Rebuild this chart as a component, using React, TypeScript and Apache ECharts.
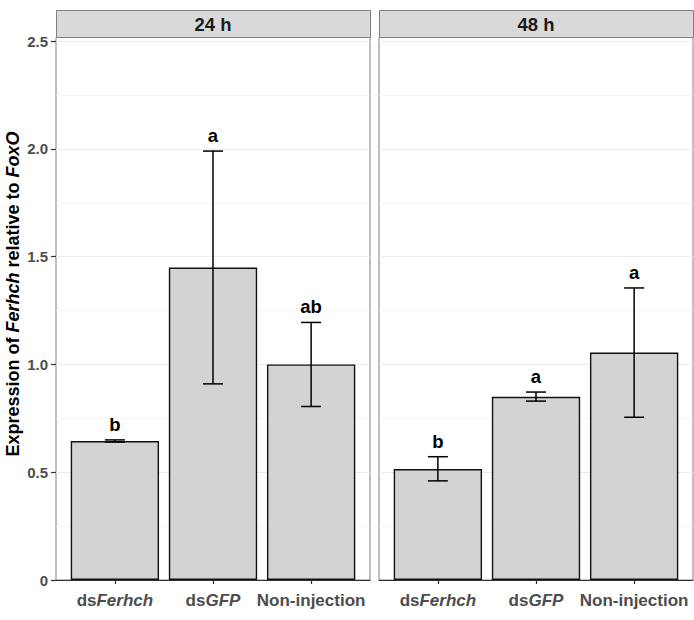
import React, { useEffect, useRef } from 'react';
import * as echarts from 'echarts';

const panels = ['24 h', '48 h'];
const categories = ['dsFerhch', 'dsGFP', 'Non-injection'];
const means24 = [0.645, 1.45, 1.0];
const lower24 = [0.64, 0.91, 0.805];
const upper24 = [0.65, 1.99, 1.195];
const letters24 = ['b', 'a', 'ab'];
const means48 = [0.515, 0.85, 1.055];
const lower48 = [0.46, 0.83, 0.755];
const upper48 = [0.572, 0.872, 1.355];
const letters48 = ['b', 'a', 'a'];
const yMin = 0;
const yMax = 2.517;
const yInterval = 0.5;

const FONT = '"Liberation Sans", Arial, Helvetica, sans-serif';

export default function App() {
  const ref = useRef<HTMLDivElement>(null);
  useEffect(() => {
    document.body.style.margin = '0';
    if (!ref.current) return;
    const chart = echarts.init(ref.current, undefined, { renderer: 'svg' });

    const panelLeft = [56, 379];
    const panelW = 314;
    const top = 37.5;
    const height = 542.5;
    const unit = panelW / 3.2;
    const innerPad = unit * 0.1;

    const grids: any[] = [];
    panelLeft.forEach((l) => {
      grids.push({ left: l, top, width: panelW, height, show: true, borderColor: '#7f7f7f', borderWidth: 1, backgroundColor: '#fff', containLabel: false });
    });
    panelLeft.forEach((l) => {
      grids.push({ left: l + innerPad, top, width: panelW - 2 * innerPad, height, containLabel: false });
    });

    const xLabel = {
      interval: 0,
      hideOverlap: false,
      fontFamily: FONT,
      fontWeight: 'bold',
      fontSize: 17,
      color: '#4d4d4d',
      margin: 12,
      formatter: (v: string) => (v.startsWith('ds') ? `{n|ds}{i|${v.slice(2)}}` : `{n|${v}}`),
      rich: {
        n: { fontFamily: FONT, fontWeight: 'bold', fontSize: 17, color: '#4d4d4d' },
        i: { fontFamily: FONT, fontWeight: 'bold', fontStyle: 'italic', fontSize: 17, color: '#4d4d4d' },
      },
    };

    const xAxis: any[] = [
      ...[0, 1].map((g) => ({
        gridIndex: g, type: 'value', min: 0, max: 1,
        axisLine: { show: true, lineStyle: { color: '#333', width: 1.2 } },
        axisTick: { show: false }, axisLabel: { show: false }, splitLine: { show: false },
      })),
      ...[2, 3].map((g) => ({
        gridIndex: g, type: 'category', data: categories, boundaryGap: true,
        axisLine: { show: false },
        axisTick: { show: true, alignWithLabel: true, interval: 0, length: 4, lineStyle: { color: '#333', width: 1.2 } },
        axisLabel: xLabel,
        splitLine: { show: false },
      })),
    ];

    const yBase = { type: 'value', min: yMin, max: yMax, interval: yInterval };
    const yAxis: any[] = [
      {
        ...yBase, gridIndex: 0,
        axisLine: { show: false },
        axisTick: { show: true, length: 5, lineStyle: { color: '#333', width: 1.2 } },
        axisLabel: {
          show: true, showMaxLabel: false, fontFamily: FONT, fontWeight: 'bold', fontSize: 15, color: '#4d4d4d', margin: 8,
          formatter: (v: number) => {
            const r = Math.round(v / yInterval) * yInterval;
            if (Math.abs(r - v) > 1e-6) return '';
            return v === 0 ? '0' : v.toFixed(1);
          },
        },
        splitLine: { show: true, lineStyle: { color: '#ebebeb', width: 1.2 } },
        minorTick: { show: false, splitNumber: 2 },
        minorSplitLine: { show: true, lineStyle: { color: '#f3f3f3', width: 0.8 } },
      },
      {
        ...yBase, gridIndex: 1,
        axisLine: { show: false }, axisTick: { show: false }, axisLabel: { show: false },
        splitLine: { show: true, lineStyle: { color: '#ebebeb', width: 1.2 } },
        minorTick: { show: false, splitNumber: 2 },
        minorSplitLine: { show: true, lineStyle: { color: '#f3f3f3', width: 0.8 } },
      },
      ...[2, 3].map((g) => ({
        ...yBase, gridIndex: g,
        axisLine: { show: false }, axisTick: { show: false }, axisLabel: { show: false }, splitLine: { show: false },
      })),
    ];

    const makeErr = (axisIdx: number, lo: number[], hi: number[], letters: string[]) => ({
      type: 'custom',
      xAxisIndex: axisIdx,
      yAxisIndex: axisIdx,
      z: 5,
      encode: { x: 0, y: [1, 2] },
      data: lo.map((l, i) => [i, l, hi[i]]),
      renderItem: (params: any, api: any) => {
        const i = api.value(0);
        const pLo = api.coord([i, api.value(1)]);
        const pHi = api.coord([i, api.value(2)]);
        const half = 10;
        const st = { stroke: '#000', lineWidth: 1.5 };
        return {
          type: 'group',
          children: [
            { type: 'line', shape: { x1: pLo[0], y1: pLo[1], x2: pHi[0], y2: pHi[1] }, style: st },
            { type: 'line', shape: { x1: pHi[0] - half, y1: pHi[1], x2: pHi[0] + half, y2: pHi[1] }, style: st },
            { type: 'line', shape: { x1: pLo[0] - half, y1: pLo[1], x2: pLo[0] + half, y2: pLo[1] }, style: st },
            {
              type: 'text', x: pHi[0], y: pHi[1] - 6,
              style: {
                text: letters[params.dataIndex], align: 'center', verticalAlign: 'bottom',
                fontFamily: FONT, fontWeight: 'bold', fontSize: 18.5, fill: '#000',
              },
            },
          ],
        };
      },
    });

    const makeBar = (axisIdx: number, data: number[]) => ({
      type: 'bar', xAxisIndex: axisIdx, yAxisIndex: axisIdx, data, barWidth: '90%',
      itemStyle: { color: '#d3d3d3', borderColor: '#111', borderWidth: 1.4 },
      z: 3,
    });

    const graphic: any[] = [];
    panelLeft.forEach((l, k) => {
      graphic.push({
        type: 'rect', left: l, top: 10, shape: { x: 0, y: 0, width: panelW, height: 27 },
        style: { fill: '#d9d9d9', stroke: '#7f7f7f', lineWidth: 1 }, z: 10,
      });
      graphic.push({
        type: 'text', x: l + panelW / 2, y: 24, z: 11,
        style: { text: panels[k], align: 'center', verticalAlign: 'middle', fontFamily: FONT, fontWeight: 'bold', fontSize: 18.5, fill: '#1a1a1a' },
      });
    });
    graphic.push({
      type: 'text', x: 13, y: 294, rotation: Math.PI / 2, z: 11,
      style: {
        text: '{b|Expression of }{i|Ferhch}{b| relative to }{i|FoxO}',
        align: 'center', verticalAlign: 'middle',
        rich: {
          b: { fontFamily: FONT, fontWeight: 'bold', fontSize: 18, fill: '#000' },
          i: { fontFamily: FONT, fontWeight: 'bold', fontStyle: 'italic', fontSize: 18, fill: '#000' },
        },
      },
    });

    chart.setOption({
      animation: false,
      backgroundColor: '#fff',
      grid: grids,
      xAxis,
      yAxis,
      graphic,
      series: [
        makeBar(2, means24),
        makeErr(2, lower24, upper24, letters24),
        makeBar(3, means48),
        makeErr(3, lower48, upper48, letters48),
      ],
    });
    return () => chart.dispose();
  }, []);
  return <div ref={ref} style={{ width: 694, height: 620 }} />;
}
